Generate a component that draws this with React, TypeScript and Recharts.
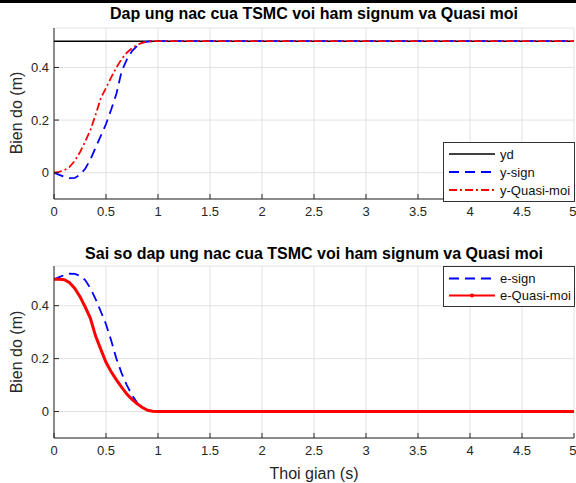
import React from "react";
import { LineChart, Line, XAxis, YAxis, CartesianGrid, Legend } from "recharts";

// time samples (s)
const time = [
  0, 0.05, 0.1, 0.15, 0.2, 0.25, 0.3, 0.35, 0.4, 0.45, 0.5, 0.55, 0.6, 0.65, 0.7, 0.75, 0.8, 0.85, 0.9, 0.95, 1,
  1.25, 1.5, 1.75, 2, 2.25, 2.5, 2.75, 3, 3.25, 3.5, 3.75, 4, 4.25, 4.5, 4.75, 5,
];

// top plot: response
const yd = [
  0.5, 0.5, 0.5, 0.5, 0.5, 0.5, 0.5, 0.5, 0.5, 0.5, 0.5, 0.5, 0.5, 0.5, 0.5, 0.5, 0.5, 0.5, 0.5, 0.5, 0.5,
  0.5, 0.5, 0.5, 0.5, 0.5, 0.5, 0.5, 0.5, 0.5, 0.5, 0.5, 0.5, 0.5, 0.5, 0.5, 0.5,
];
const ySign = [
  0, -0.008, -0.016, -0.021, -0.02, -0.008, 0.015, 0.05, 0.095, 0.14, 0.185, 0.24, 0.3, 0.385, 0.43, 0.462, 0.482, 0.494, 0.498, 0.5, 0.5,
  0.5, 0.5, 0.5, 0.5, 0.5, 0.5, 0.5, 0.5, 0.5, 0.5, 0.5, 0.5, 0.5, 0.5, 0.5, 0.5,
];
const yQuasi = [
  0, 0.003, 0.01, 0.022, 0.045, 0.078, 0.118, 0.162, 0.22, 0.283, 0.322, 0.362, 0.4, 0.432, 0.456, 0.474, 0.486, 0.494, 0.499, 0.5, 0.5,
  0.5, 0.5, 0.5, 0.5, 0.5, 0.5, 0.5, 0.5, 0.5, 0.5, 0.5, 0.5, 0.5, 0.5, 0.5, 0.5,
];

// bottom plot: error
const eSign = [
  0.5, 0.508, 0.516, 0.521, 0.52, 0.513, 0.497, 0.466, 0.425, 0.378, 0.33, 0.268, 0.2, 0.145, 0.1, 0.062, 0.033, 0.015, 0.005, 0.001, 0,
  0, 0, 0, 0, 0, 0, 0, 0, 0, 0, 0, 0, 0, 0, 0, 0,
];
const eQuasi = [
  0.5, 0.5, 0.498, 0.487, 0.465, 0.434, 0.395, 0.352, 0.285, 0.235, 0.186, 0.15, 0.12, 0.092, 0.066, 0.046, 0.029, 0.015, 0.005, 0.001, 0,
  0, 0, 0, 0, 0, 0, 0, 0, 0, 0, 0, 0, 0, 0, 0, 0,
];

const xTicks = [0, 0.5, 1, 1.5, 2, 2.5, 3, 3.5, 4, 4.5, 5];
const yTicks = [0, 0.2, 0.4];
const yDomain = [-0.1, 0.55];

const data = time.map((t, i) => ({
  t,
  yd: yd[i],
  ySign: ySign[i],
  yQuasi: yQuasi[i],
  eSign: eSign[i],
  eQuasi: eQuasi[i],
}));

const AXIS = "#262626";
const FONT = "'Liberation Sans', Arial, Helvetica, sans-serif";
const fmt = (v: number) => String(v);

type Item = { label: string; color: string; dash?: string; width: number; dot?: boolean };

const LegendBox = ({ items, rowH, padTop }: { items: Item[]; rowH: number; padTop: number }) => (
  <div
    style={{
      width: 132,
      border: "1px solid #333",
      background: "#fff",
      paddingTop: padTop,
      paddingBottom: 2,
      boxSizing: "border-box",
      fontFamily: FONT,
      fontSize: 13,
      color: "#111",
    }}
  >
    {items.map((it) => (
      <div key={it.label} style={{ display: "flex", alignItems: "center", height: rowH }}>
        <svg width={54} height={rowH} style={{ flex: "none" }}>
          <line x1={5} x2={51} y1={rowH / 2} y2={rowH / 2} stroke={it.color} strokeWidth={it.width} strokeDasharray={it.dash} />
          {it.dot && <circle cx={28} cy={rowH / 2} r={2} fill={it.color} />}
        </svg>
        <span style={{ marginLeft: 2, whiteSpace: "nowrap" }}>{it.label}</span>
      </div>
    ))}
  </div>
);

const topItems: Item[] = [
  { label: "yd", color: "#000", width: 1.5 },
  { label: "y-sign", color: "#0000ff", dash: "10 6", width: 1.8 },
  { label: "y-Quasi-moi", color: "#ff0000", dash: "8 3 2 3", width: 1.8 },
];
const bottomItems: Item[] = [
  { label: "e-sign", color: "#0000ff", dash: "10 6", width: 1.8 },
  { label: "e-Quasi-moi", color: "#ff0000", width: 2, dot: true },
];

function frame(xHeight: number) {
  return [
    <CartesianGrid key="g" stroke="#e2e2e2" />,
    <XAxis
      key="x"
      dataKey="t"
      type="number"
      domain={[0, 5]}
      ticks={xTicks}
      tickFormatter={fmt}
      height={xHeight}
      tickSize={-5}
      tickMargin={13}
      axisLine={{ stroke: AXIS }}
      tickLine={{ stroke: AXIS }}
      tick={{ fill: AXIS, fontSize: 13 }}
    />,
    <XAxis
      key="xt"
      xAxisId="top"
      orientation="top"
      type="number"
      domain={[0, 5]}
      ticks={xTicks}
      height={0}
      tickSize={-5}
      tick={false}
      axisLine={{ stroke: "#c8c8c8" }}
      tickLine={{ stroke: AXIS }}
    />,
    <YAxis
      key="y"
      type="number"
      domain={yDomain}
      ticks={yTicks}
      tickFormatter={fmt}
      width={54}
      tickSize={-5}
      tickMargin={10}
      axisLine={{ stroke: AXIS }}
      tickLine={{ stroke: AXIS }}
      tick={{ fill: AXIS, fontSize: 13 }}
    />,
    <YAxis
      key="yr"
      yAxisId="right"
      orientation="right"
      type="number"
      domain={yDomain}
      ticks={yTicks}
      width={0}
      tickSize={-5}
      tick={false}
      axisLine={{ stroke: AXIS }}
      tickLine={{ stroke: AXIS }}
    />,
  ];
}

const title: React.CSSProperties = {
  position: "absolute",
  left: 54,
  width: 520,
  textAlign: "center",
  fontWeight: "bold",
  fontSize: 16,
  lineHeight: "18px",
  color: "#000",
};
const yLabel: React.CSSProperties = {
  position: "absolute",
  left: 17,
  transform: "translate(-50%, -50%) rotate(-90deg)",
  whiteSpace: "nowrap",
  fontSize: 16,
  color: AXIS,
};

export default function App() {
  return (
    <div
      style={{
        position: "absolute",
        left: 0,
        top: 0,
        width: 576,
        height: 483,
        background: "#fff",
        fontFamily: FONT,
        overflow: "hidden",
      }}
    >
      <div style={{ position: "absolute", left: 0, top: 26 }}>
        <LineChart width={576} height={204} data={data} margin={{ top: 2, right: 2, bottom: 0, left: 0 }}>
          {frame(31)}
          <Line dataKey="yd" stroke="#000" strokeWidth={1.5} dot={false} isAnimationActive={false} />
          <Line dataKey="ySign" stroke="#0000ff" strokeWidth={1.8} strokeDasharray="10 6" dot={false} isAnimationActive={false} />
          <Line dataKey="yQuasi" stroke="#ff0000" strokeWidth={1.8} strokeDasharray="8 3 2 3" dot={false} isAnimationActive={false} />
          <Legend
            layout="horizontal"
            verticalAlign="middle"
            align="center"
            wrapperStyle={{ position: "absolute", left: 443, top: 116, width: 132 }}
            content={() => <LegendBox items={topItems} rowH={18} padTop={2} />}
          />
        </LineChart>
      </div>

      <div style={{ position: "absolute", left: 0, top: 264 }}>
        <LineChart width={576} height={219} data={data} margin={{ top: 2, right: 2, bottom: 0, left: 0 }}>
          {frame(45)}
          <Line dataKey="eSign" stroke="#0000ff" strokeWidth={1.8} strokeDasharray="10 6" dot={false} isAnimationActive={false} />
          <Line dataKey="eQuasi" stroke="#ff0000" strokeWidth={3} dot={false} isAnimationActive={false} />
          <Legend
            layout="horizontal"
            verticalAlign="middle"
            align="center"
            wrapperStyle={{ position: "absolute", left: 443, top: 2, width: 132 }}
            content={() => <LegendBox items={bottomItems} rowH={17} padTop={3} />}
          />
        </LineChart>
      </div>

      <div style={{ position: "absolute", left: 0, top: 0, width: 576, height: 3, background: "#000" }} />
      <div style={{ ...title, top: 5 }}>Dap ung nac cua TSMC voi ham signum va Quasi moi</div>
      <div style={{ ...title, top: 245 }}>Sai so dap ung nac cua TSMC voi ham signum va Quasi moi</div>
      <div style={{ ...yLabel, top: 113 }}>Bien do (m)</div>
      <div style={{ ...yLabel, top: 352 }}>Bien do (m)</div>
      <div style={{ position: "absolute", left: 54, width: 520, top: 465, textAlign: "center", fontSize: 16, color: AXIS }}>
        Thoi gian (s)
      </div>
    </div>
  );
}
